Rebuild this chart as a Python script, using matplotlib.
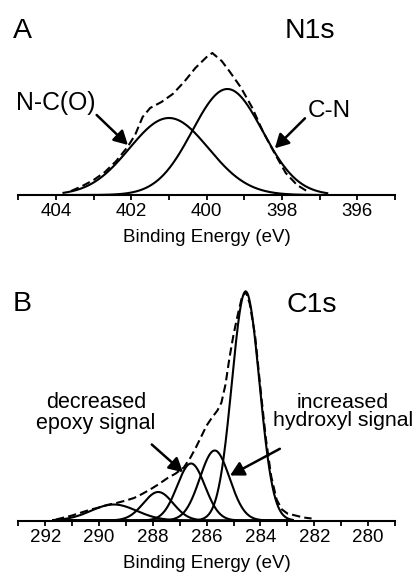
import numpy as np
import matplotlib
matplotlib.use('Agg')
import matplotlib.pyplot as plt
from matplotlib.ticker import MultipleLocator

plt.rcParams['font.family'] = ['Liberation Sans', 'DejaVu Sans']

# N1s: fitted components (binding energy eV, height a.u., fwhm eV)
n1s_names = ['N-C(O)', 'C-N']
n1s_centers = [401.0, 399.45]
n1s_heights = [77, 106]
n1s_fwhm = [2.47, 2.19]
n1s_fit_range = [403.8, 396.8]

# N1s: measured spectrum (dashed)
n1s_be = [403.6, 403.3, 403.0, 402.7, 402.4, 402.1, 401.9, 401.7, 401.5, 401.2,
          400.9, 400.6, 400.3, 400.0, 399.85, 399.6, 399.4, 399.1, 398.8, 398.5,
          398.2, 397.9, 397.6, 397.3]
n1s_int = [4, 9, 15, 23, 34, 48, 60, 78, 87, 93,
           101, 113, 127, 138, 142, 134, 124, 108, 88, 63,
           42, 22, 10, 3]

# C1s: fitted components
c1s_names = ['C-C', 'C-OH', 'C-O-C', 'C=O', 'O-C=O']
c1s_centers = [284.55, 285.7, 286.58, 287.8, 289.45]
c1s_heights = [229, 70, 57, 28.5, 16]
c1s_fwhm = [1.2, 1.3, 1.22, 1.3, 2.0]
c1s_fit_range = [291.7, 282.8]

# C1s: measured spectrum (dashed)
c1s_be = [291.6, 291.3, 291.0, 290.6, 290.3, 290.0, 289.7, 289.35, 289.0, 288.7,
          288.4, 288.1, 287.8, 287.45, 287.15, 286.85, 286.6, 286.4, 286.2, 286.0,
          285.8, 285.6, 285.45, 285.3, 285.15, 285.0, 284.85, 284.7, 284.55, 284.4,
          284.2, 284.0, 283.8, 283.6, 283.4, 283.2, 283.0, 282.7, 282.4, 282.1]
c1s_int = [1, 3, 5, 8.5, 11, 13, 15.5, 17.5, 20, 22.5,
           26.5, 31, 36, 42.5, 47, 53, 63, 73, 84, 95,
           103, 110, 118, 136, 163, 186, 205, 222, 229, 217,
           185, 132, 82, 44, 21, 11, 7, 5, 3, 2]


def gauss(x, c, h, fwhm):
    s = fwhm / 2.3548
    return h * np.exp(-(x - c) ** 2 / (2 * s * s))


def draw_panel(ax, centers, heights, fwhm, fit_range, be, inten, xlim, ylim):
    x = np.linspace(fit_range[0], fit_range[1], 600)
    for c, h, w in zip(centers, heights, fwhm):
        ax.plot(x, gauss(x, c, h, w), color='black', lw=1.5)
    ax.plot(be, inten, color='black', lw=1.5, dashes=(4.0, 2.0))
    ax.set_xlim(*xlim)
    ax.set_ylim(*ylim)
    ax.set_yticks([])
    for s in ['left', 'right', 'top']:
        ax.spines[s].set_visible(False)
    ax.spines['bottom'].set_linewidth(1.5)
    ax.xaxis.set_major_locator(MultipleLocator(2))
    ax.xaxis.set_minor_locator(MultipleLocator(1))
    ax.tick_params(axis='x', which='both', direction='out', length=3.4,
                   width=1.3, pad=2.5, labelsize=13.5)
    ax.set_xlabel('Binding Energy (eV)', fontsize=13.5, labelpad=6.5)


def arrow(ax, tip, tail):
    ax.annotate('', xy=tip, xytext=tail,
                arrowprops=dict(arrowstyle='-|>,head_length=0.55,head_width=0.3',
                                color='black', lw=1.8, mutation_scale=15,
                                shrinkA=0, shrinkB=0))


def main():
    W, H = 416, 578
    fig = plt.figure(figsize=(W / 100, H / 100), dpi=100)

    # panel A
    axa = fig.add_axes([18.3 / W, 1 - 195 / H, (395 - 18.3) / W, 185 / H])
    draw_panel(axa, n1s_centers, n1s_heights, n1s_fwhm, n1s_fit_range,
               n1s_be, n1s_int, (405, 395), (0, 185))
    axa.text(404.0, 85, n1s_names[0], ha='center', va='baseline', fontsize=17.8)
    axa.text(396.74, 77.7, n1s_names[1], ha='center', va='baseline', fontsize=17.5)
    arrow(axa, (402.09, 50), (402.92, 80))
    arrow(axa, (398.19, 46.7), (397.39, 76.7))
    fig.text(13 / W, 1 - 38.3 / H, 'A', fontsize=20.5, va='baseline')
    fig.text(285 / W, 1 - 38.3 / H, 'N1s', fontsize=20.5, va='baseline')

    # panel B
    axb = fig.add_axes([18.3 / W, 1 - 520.5 / H, (395 - 18.3) / W, 240 / H])
    draw_panel(axb, c1s_centers, c1s_heights, c1s_fwhm, c1s_fit_range,
               c1s_be, c1s_int, (293, 279), (0, 240))
    axb.text(290.12, 128, 'decreased\nepoxy signal', ha='center', va='top',
             fontsize=15.5, linespacing=1.0)
    axb.text(280.94, 128, 'increased\nhydroxyl signal', ha='center', va='top',
             fontsize=15.3, linespacing=1.0)
    arrow(axb, (286.88, 48.3), (288.04, 76))
    arrow(axb, (285.13, 45), (283.28, 71.7))
    fig.text(13 / W, 1 - 310.7 / H, 'B', fontsize=20.5, va='baseline')
    fig.text(287 / W, 1 - 311.7 / H, 'C1s', fontsize=20.5, va='baseline')

    fig.savefig('out.png', dpi=100)


if __name__ == '__main__':
    main()
